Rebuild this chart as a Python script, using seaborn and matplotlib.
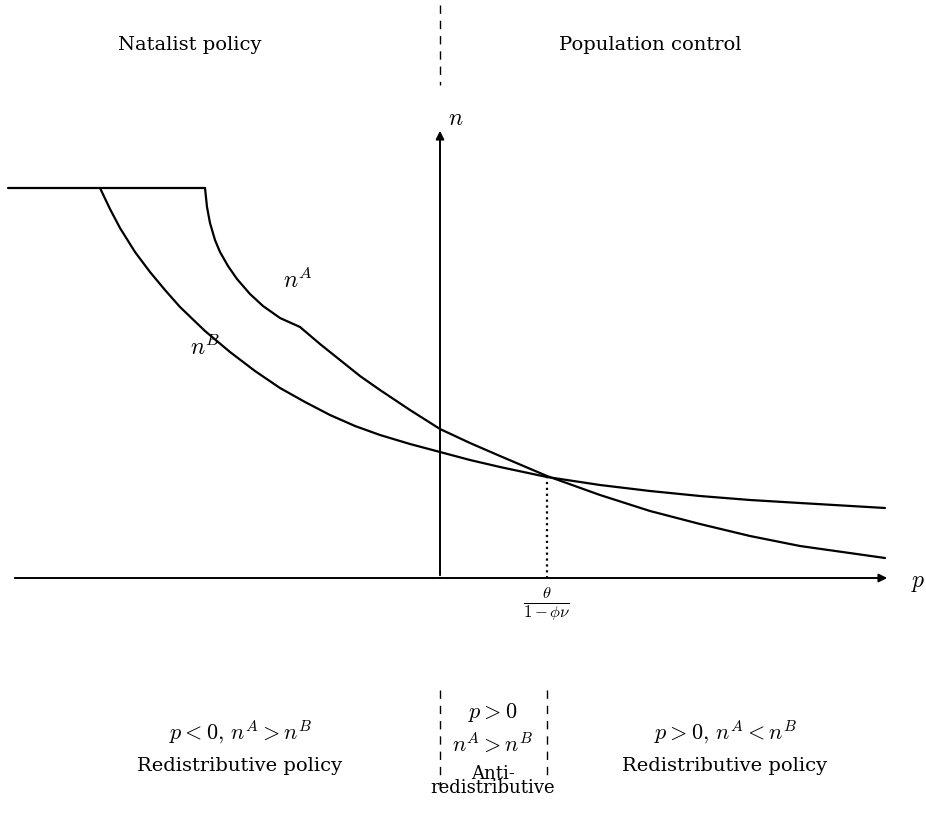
import seaborn as sns
import matplotlib.pyplot as plt
import pandas as pd

# curves (pixel-like units, y grows downwards)
cap_x = [8, 205]
cap_y = [188, 188]
nb_x = [100, 110, 120, 135, 150, 165, 180, 205, 230, 255, 280, 305, 330, 355, 380, 410, 440, 470, 500, 547, 600, 650, 700, 750, 800, 885]
nb_y = [188, 209, 228, 252, 272, 290, 307, 331, 352, 371, 388, 402, 415, 426, 435, 444, 452, 460, 467, 477, 485, 491, 496, 500, 503, 508]
na_x = [205, 207, 210, 215, 220, 228, 237, 250, 263, 280, 300, 320, 340, 360, 380, 410, 440, 470, 500, 547, 600, 650, 700, 750, 800, 885]
na_y = [188, 207, 223, 240, 252, 266, 279, 294, 306, 318, 327, 344, 360, 376, 390, 410, 429, 443, 456, 476, 495, 511, 524, 536, 546, 558]
cross_x = 547
cross_y = 476

sns.set_theme(style="white")
plt.rcParams['mathtext.fontset'] = 'cm'
plt.rcParams['font.family'] = ['DejaVu Serif']
plt.rcParams['text.color'] = 'black'

fig = plt.figure(figsize=(9.26, 8.17), dpi=100)
ax = fig.add_axes([0, 0, 1, 1])
ax.set_xlim(0, 926)
ax.set_ylim(817, 0)
ax.axis('off')

for xs, ys in [(cap_x, cap_y), (nb_x, nb_y), (na_x, na_y)]:
    df = pd.DataFrame({'x': xs, 'y': ys})
    sns.lineplot(data=df, x='x', y='y', sort=False, color='black', lw=1.6, ax=ax)

ax.annotate('', xy=(890, 578), xytext=(12, 578),
            arrowprops=dict(arrowstyle='-|>', color='black', lw=1.4, mutation_scale=12))
ax.annotate('', xy=(440, 128), xytext=(440, 578),
            arrowprops=dict(arrowstyle='-|>', color='black', lw=1.4, mutation_scale=12))
ax.plot([cross_x, cross_x], [cross_y, 578], ls=':', color='black', lw=1.6)
ax.plot([440, 440], [5, 85], ls=(0, (6, 5)), color='black', lw=1)
ax.plot([440, 440], [690, 785], ls=(0, (6, 5)), color='black', lw=1)
ax.plot([547, 547], [690, 775], ls=(0, (6, 5)), color='black', lw=1)

fs = 14
ax.text(190, 45, 'Natalist policy', ha='center', va='center', fontsize=fs)
ax.text(650, 45, 'Population control', ha='center', va='center', fontsize=fs)
ax.text(456, 118, r'$n$', ha='center', va='center', fontsize=17)
ax.text(918, 582, r'$p$', ha='center', va='center', fontsize=17)
ax.text(298, 280, r'$n^A$', ha='center', va='center', fontsize=17)
ax.text(205, 348, r'$n^B$', ha='center', va='center', fontsize=17)
ax.text(547, 604, r'$\frac{\theta}{1-\phi\nu}$', ha='center', va='center', fontsize=17)
ax.text(240, 732, r'$p<0,\, n^A>n^B$', ha='center', va='center', fontsize=16)
ax.text(240, 766, 'Redistributive policy', ha='center', va='center', fontsize=fs)
ax.text(493, 713, r'$p>0$', ha='center', va='center', fontsize=16)
ax.text(493, 744, r'$n^A>n^B$', ha='center', va='center', fontsize=16)
ax.text(493, 781, 'Anti-\nredistributive', ha='center', va='center', fontsize=13, linespacing=0.75)
ax.text(725, 732, r'$p>0,\, n^A<n^B$', ha='center', va='center', fontsize=16)
ax.text(725, 766, 'Redistributive policy', ha='center', va='center', fontsize=fs)

fig.savefig('out.png', dpi=100)
